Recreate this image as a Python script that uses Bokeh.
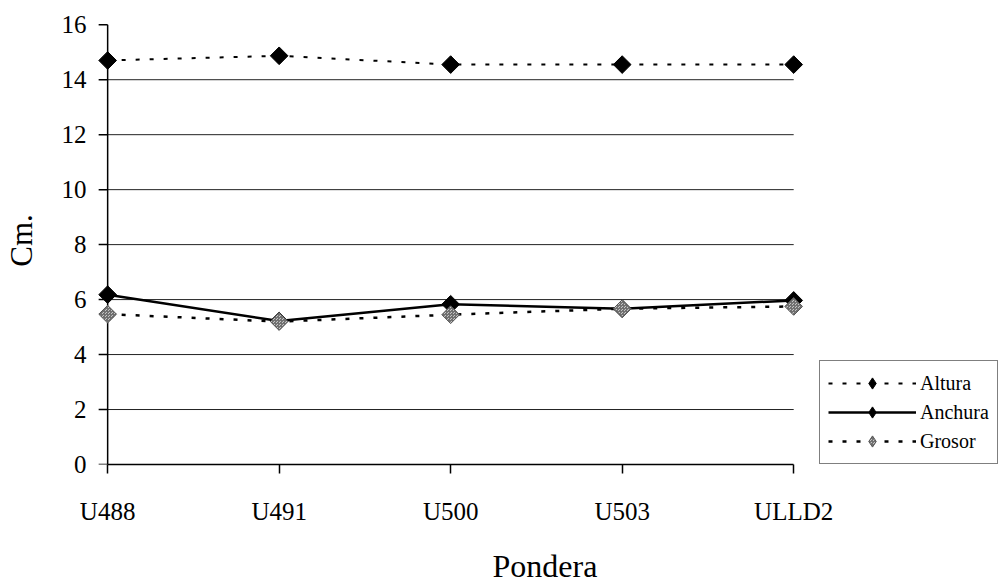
import math
from bokeh.plotting import figure
from bokeh.models import Range1d, FixedTicker, Legend, LegendItem
from bokeh.embed import file_html
from bokeh.resources import INLINE

# ---- data ----
categories = ["U488", "U491", "U500", "U503", "ULLD2"]
altura = [14.70, 14.87, 14.55, 14.55, 14.55]
anchura = [6.18, 5.22, 5.83, 5.67, 5.97]
grosor = [5.47, 5.20, 5.45, 5.67, 5.75]
y_ticks = [0, 2, 4, 6, 8, 10, 12, 14, 16]
grid_values = [2, 4, 6, 8, 10, 12, 14]
x_title = "Pondera"
y_title = "Cm."
series_names = ["Altura", "Anchura", "Grosor"]

FONT = "Liberation Serif"
xs = list(range(len(categories)))
x_last = len(categories) - 1
pad = 0.1
x_end = 5.2          # frame extends to the right to host the legend
frame_w = 909
px_per_unit = frame_w / (x_end + pad)
tick_len = 9 / px_per_unit

p = figure(frame_width=frame_w, frame_height=448, output_backend="svg",
           toolbar_location=None,
           x_range=Range1d(-pad, x_end), y_range=Range1d(0, 16.3),
           min_border_left=88, min_border_right=0, min_border_top=16,
           min_border_bottom=118)
p.outline_line_color = None
p.xgrid.visible = False
p.ygrid.visible = False

# gridlines spanning the category extent only
n = len(grid_values)
p.segment(x0=[0] * n, x1=[x_last] * n, y0=grid_values, y1=grid_values,
          line_color="#222222", line_width=1)

# y axis line and outward ticks drawn at x = 0
p.segment(x0=[0], x1=[0], y0=[y_ticks[0]], y1=[y_ticks[-1]],
          line_color="black", line_width=1.5)
m = len(y_ticks)
p.segment(x0=[-tick_len] * m, x1=[0] * m, y0=y_ticks, y1=y_ticks,
          line_color="black", line_width=1.5)

# x axis
xa = p.xaxis[0]
xa.ticker = FixedTicker(ticks=xs)
xa.major_label_overrides = {i: c for i, c in enumerate(categories)}
xa.bounds = (0, x_last)
xa.major_tick_out = 9
xa.major_tick_in = 0
xa.minor_tick_out = 0
xa.minor_tick_in = 0
xa.axis_line_width = 1.5
xa.axis_line_color = "black"
xa.major_tick_line_color = "black"
xa.major_tick_line_width = 1.5
xa.major_label_text_font = FONT
xa.major_label_text_font_size = "25px"
xa.major_label_text_color = "black"
xa.major_label_standoff = 24
xa.axis_label = x_title
xa.axis_label_text_font = FONT
xa.axis_label_text_font_size = "32px"
xa.axis_label_text_font_style = "normal"
xa.axis_label_text_color = "black"
xa.axis_label_standoff = 20

# y axis: only labels (line/ticks drawn above at x = 0)
ya = p.yaxis[0]
ya.ticker = FixedTicker(ticks=y_ticks)
ya.axis_line_color = None
ya.major_tick_line_color = None
ya.minor_tick_line_color = None
ya.major_tick_out = 0
ya.major_tick_in = 0
ya.minor_tick_out = 0
ya.minor_tick_in = 0
ya.major_label_text_font = FONT
ya.major_label_text_font_size = "25px"
ya.major_label_text_color = "black"
ya.major_label_standoff = 4
ya.axis_label = y_title
ya.axis_label_text_font = FONT
ya.axis_label_text_font_size = "31px"
ya.axis_label_text_font_style = "normal"
ya.axis_label_text_color = "black"
ya.axis_label_standoff = 20

# series
dash = "4 10"
black_mk = dict(fill_color="black", line_color="black")
gro_style = dict(fill_color="#c4c4c4", line_color="#555555", line_width=1,
                 hatch_pattern="criss_cross", hatch_scale=3, hatch_color="#707070",
                 hatch_weight=1)

alt_l = p.line(xs, altura, line_color="black", line_width=2, line_dash=dash)
alt_k = p.scatter(xs, altura, marker="diamond", size=12, **black_mk)
alt_m = p.scatter(xs, altura, marker="square", angle=math.pi / 4, size=12.5, **black_mk)

anc_l = p.line(xs, anchura, line_color="black", line_width=2.5)
anc_k = p.scatter(xs, anchura, marker="diamond", size=12, **black_mk)
anc_m = p.scatter(xs, anchura, marker="square", angle=math.pi / 4, size=12.5, **black_mk)

gro_l = p.line(xs, grosor, line_color="black", line_width=2.5, line_dash=dash)
gro_k = p.scatter(xs, grosor, marker="diamond", size=12, **gro_style)
gro_m = p.scatter(xs, grosor, marker="square", angle=math.pi / 4, size=12.5, **gro_style)

legend = Legend(items=[
    LegendItem(label=series_names[0], renderers=[alt_l, alt_k]),
    LegendItem(label=series_names[1], renderers=[anc_l, anc_k]),
    LegendItem(label=series_names[2], renderers=[gro_l, gro_k]),
], location=(729, 0))
legend.border_line_color = "black"
legend.border_line_width = 1
legend.background_fill_color = "white"
legend.background_fill_alpha = 1
legend.padding = 8
legend.spacing = 1
legend.margin = 0
legend.glyph_width = 88
legend.glyph_height = 28
legend.label_height = 28
legend.label_width = 66
legend.label_standoff = 4
legend.label_text_font = FONT
legend.label_text_font_size = "20px"
legend.label_text_color = "black"
p.add_layout(legend)

open("out.html", "w").write(file_html(p, INLINE))
